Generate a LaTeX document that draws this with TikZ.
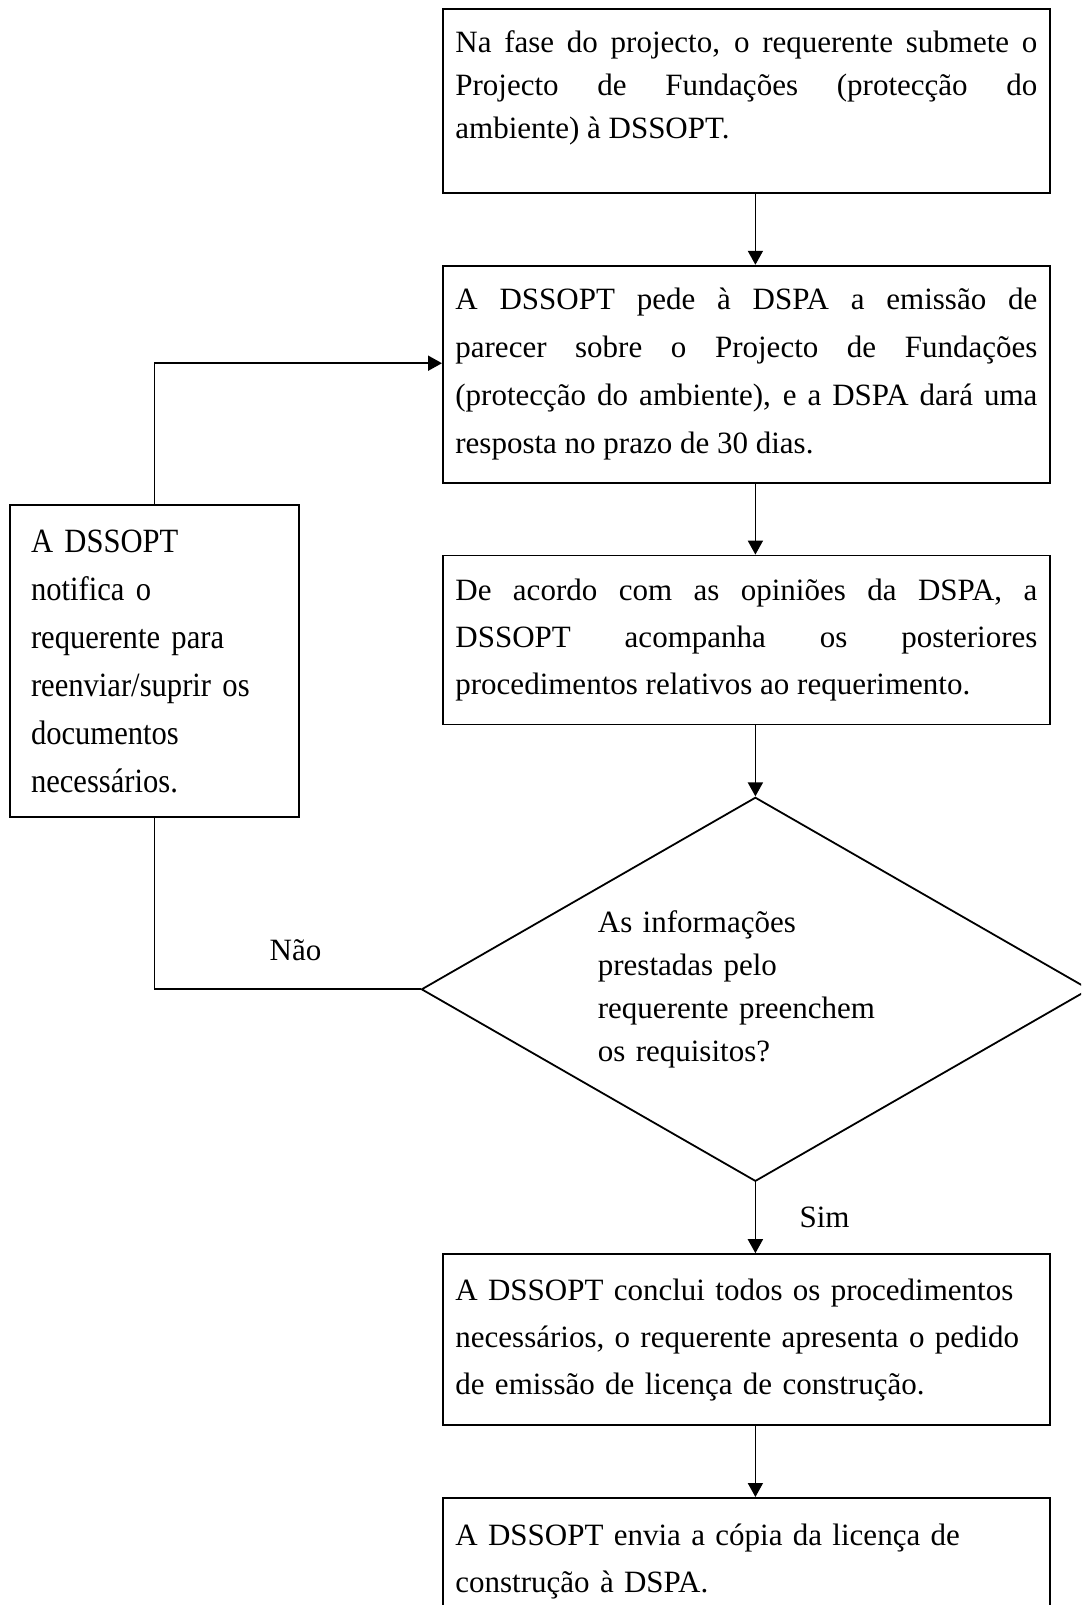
\documentclass[tikz,border=0pt]{standalone}
\usepackage{fontspec}
\setmainfont{Liberation Serif}
\newfontfamily\sidefont[FakeStretch=0.9]{Liberation Serif}
\usetikzlibrary{positioning, shapes.geometric, arrows.meta}

\begin{document}
\begin{tikzpicture}[x=1pt, y=-1pt, node distance=71pt, line width=1.8pt,
                    font=\fontsize{31}{47}\selectfont,
                    box/.style={rectangle, draw, minimum width=607pt, text width=582pt, inner xsep=12.5pt, align=justify},
                    side/.style={rectangle, draw, minimum width=289pt, text width=247pt, inner xsep=21pt, align=left, font=\sidefont\fontsize{34}{48}\selectfont},
                    decision/.style={diamond, draw, aspect=1.74, minimum width=668pt, minimum height=384pt, inner sep=0pt, text width=315pt, align=left},
                    flow/.style={-{Triangle[length=14pt, width=15pt]}}]
                    \useasboundingbox (0,0) rectangle (1081,1605);
                    \clip (0,0) rectangle (1081,1605);

                    \node[box, anchor=north west, minimum height=184pt, font=\fontsize{31}{43}\selectfont] (1) at (442,8) {Na fase do projecto, o requerente submete o\linebreak Projecto de Fundações (protecção do\linebreak ambiente) à DSSOPT.\\[-10pt]\mbox{}};
                    \node[box, minimum height=217pt, font=\fontsize{31}{48}\selectfont] (2) [below=of 1] {A DSSOPT pede à DSPA a emissão de\linebreak parecer sobre o Projecto de Fundações\linebreak (protecção do ambiente), e a DSPA dará uma\linebreak resposta no prazo de 30 dias.};
                    \node[box, minimum height=169pt] (3) [below=of 2] {De acordo com as opiniões da DSPA, a\linebreak DSSOPT acompanha os posteriores\linebreak procedimentos relativos ao requerimento.};
                    \node[decision, font=\fontsize{31}{43}\selectfont] (4) [below=of 3, xshift=9pt] {As informações\\ prestadas pelo\\ requerente preenchem\\ os requisitos?};
                    \node[box, align=left, minimum height=171pt] (5) [below=of 4, xshift=-9pt] {A DSSOPT conclui todos os procedimentos\\ necessários, o requerente apresenta o pedido\\ de emissão de licença de construção.};
                    \node[box, align=left, inner ysep=26pt] (6) [below=of 5] {A DSSOPT envia a cópia da licença de\\ construção à DSPA.};
                    \node[side, minimum height=312pt] (7) at (154.5,661) {A DSSOPT\\ notifica o\\ requerente para\\ reenviar/suprir os\\ documentos\\ necessários.};

                    \draw[flow] (1.south -| 4.north) -- (2.north -| 4.north);
                    \draw[flow] (2.south -| 4.north) -- (3.north -| 4.north);
                    \draw[flow] (3.south -| 4.north) -- (4.north);
                    \draw[flow] (4.south) -- (5.north -| 4.south) node[midway, right=40pt] {Sim};
                    \draw[flow] (5.south -| 4.south) -- (6.north -| 4.south);
                    \draw (4.west) -- (4.west -| 7.south) node[pos=0.47, above=24pt] {Não} -- (7.south);
                    \draw[flow] (7.north) |- ([yshift=11pt]2.west);
                \end{tikzpicture}
\end{document}
